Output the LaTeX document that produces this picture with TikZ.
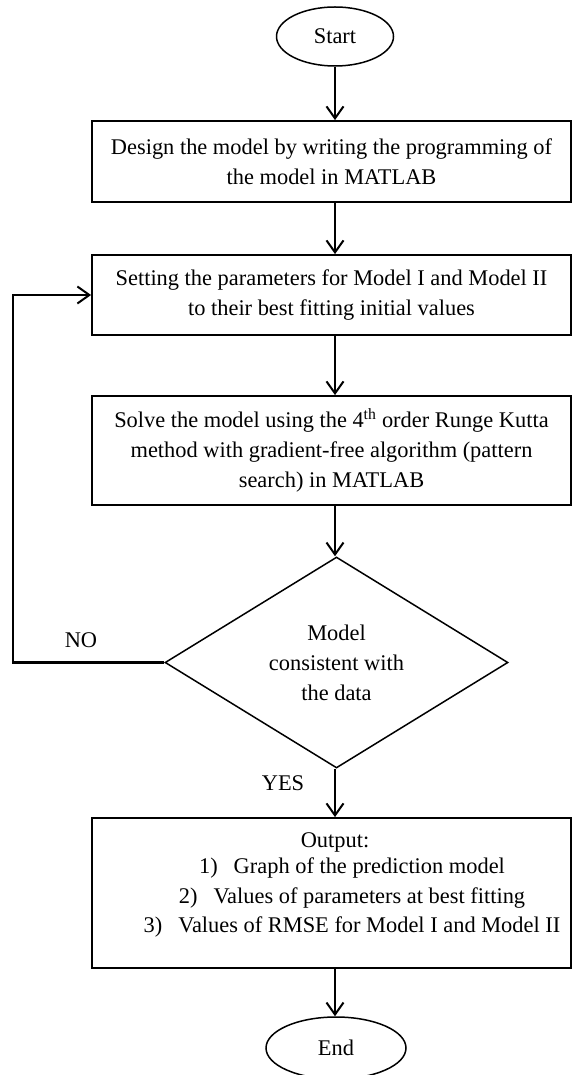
\documentclass[tikz,border=0pt]{standalone}
\usepackage{fontspec}
\setmainfont{Liberation Serif}
\usetikzlibrary{shapes.geometric,arrows.meta}
\begin{document}
\begin{tikzpicture}[x=1pt,y=-1pt,
  every node/.style={font=\fontsize{22.4}{30}\selectfont},
  box/.style={draw, line width=1.8pt, minimum width=479pt, inner sep=0pt, align=center},
  term/.style={draw, ellipse, line width=1.5pt, inner sep=0pt},
  dec/.style={draw, diamond, line width=1.5pt, aspect=1.6, inner sep=0pt, minimum width=343pt, minimum height=211pt, align=center},
  arr/.style={line width=2.4pt, -{Straight Barb[length=12pt,width=17pt,line width=2pt]}},
  lbl/.style={anchor=base, inner sep=0pt}]
\useasboundingbox (0,0) rectangle (573,1075);
\node[term, minimum width=117pt, minimum height=59pt] (start) at (335,36.5) {Start};
\node[box, minimum height=81pt] (b1) at (331.5,161.5) {Design the model by writing the programming of\\the model in MATLAB};
\node[box, minimum height=80pt] (b2) at (331.5,295) {Setting the parameters for Model I and Model II\\to their best fitting initial values};
\node[box, minimum height=109pt] (b3) at (331.5,450.5) {Solve the model using the 4\textsuperscript{th} order Runge Kutta\\method with gradient-free algorithm (pattern\\search) in MATLAB};
\node[dec] (dec) at (336.5,662.5) {Model\\consistent with\\the data};
\node[box, minimum height=150pt] (b4) at (331.5,893) {};
\node[lbl] (o0) at (335,847) {Output:};
\node[lbl] (o1) at (352,873) {1)\hspace{16pt}Graph of the prediction model};
\node[lbl] (o2) at (352,903) {2)\hspace{16pt}Values of parameters at best fitting};
\node[lbl] (o3) at (352,932) {3)\hspace{16pt}Values of RMSE for Model I and Model II};
\node[term, minimum width=140pt, minimum height=62pt] (end) at (336,1048) {End};
\node[lbl] (no) at (81,647) {NO};
\node[lbl] (yes) at (283,790) {YES};
\coordinate (loop) at (13,662.5);
\draw[arr] (start.south) -- (start.south |- b1.north);
\draw[arr] (b1.south -| start.south) -- (b2.north -| start.south);
\draw[arr] (b2.south -| start.south) -- (b3.north -| start.south);
\draw[arr] (b3.south -| start.south) -- (dec.north -| start.south);
\draw[arr] (dec.south -| start.south) -- (b4.north -| start.south);
\draw[arr] (b4.south -| start.south) -- (end.north -| start.south);
\draw[arr, line join=miter] (dec.west) -- (loop) |- (b2.west);
\end{tikzpicture}
\end{document}
